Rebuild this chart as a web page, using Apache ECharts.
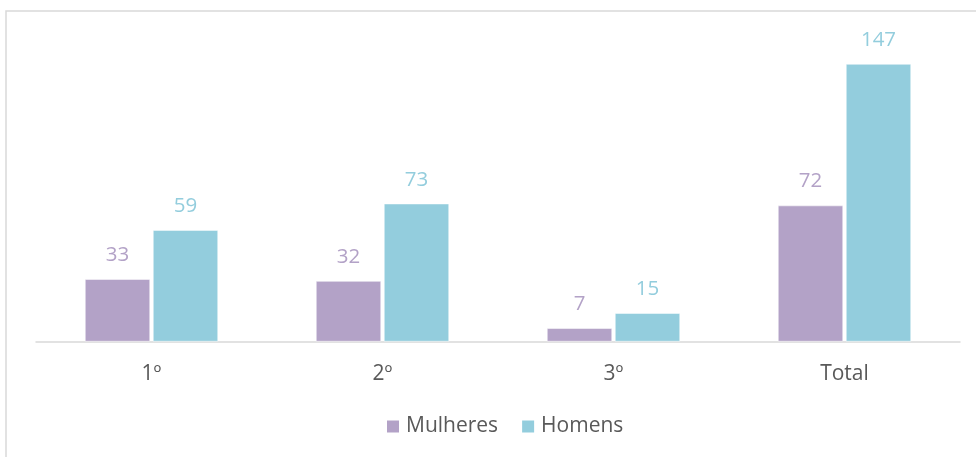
<!DOCTYPE html>
<html><head><meta charset="utf-8">
<script src="https://cdn.jsdelivr.net/npm/echarts@6/dist/echarts.min.js"></script>
<style>html,body{margin:0;padding:0;background:#fff}#c{width:976px;height:457px}</style>
</head><body><div id="c"></div>
<script>
const categories = ['1º', '2º', '3º', 'Total'];
const mulheres = [33, 32, 7, 72];
const homens = [59, 73, 15, 147];
const seriesNames = ['Mulheres', 'Homens'];

const chart = echarts.init(document.getElementById('c'), null, {renderer: 'canvas'});
const font = '"Open Sans", Lato, sans-serif';
chart.setOption({
  animation: false,
  graphic: [{
    type: 'rect', shape: {x: 6, y: 11, width: 1000, height: 500},
    style: {fill: 'none', stroke: '#d9d9d9', lineWidth: 1.5}, silent: true
  }],
  grid: {left: 36, right: 16, top: 39.5, bottom: 115.5},
  legend: {
    data: seriesNames, left: 380, top: 411, itemWidth: 14, itemHeight: 14, itemGap: 22,
    icon: 'rect', textStyle: {color: '#595959', fontSize: 21, fontFamily: font, padding: [0, 0, 0, 1]}
  },
  xAxis: {
    type: 'category', data: categories,
    axisLine: {lineStyle: {color: '#d9d9d9', width: 1.5}},
    axisTick: {show: false},
    axisLabel: {color: '#595959', fontSize: 21, fontFamily: font, margin: 22}
  },
  yAxis: {type: 'value', min: 0, max: 160, show: false, splitLine: {show: false}},
  series: [
    {name: seriesNames[0], type: 'bar', data: mulheres, barWidth: 65, barGap: '4.6%',
     itemStyle: {color: '#b3a2c7', borderColor: '#fff', borderWidth: 0.5},
     label: {show: true, position: 'top', distance: 13.5, color: '#b3a2c7', fontSize: 20.5, fontFamily: font}},
    {name: seriesNames[1], type: 'bar', data: homens, barWidth: 65,
     itemStyle: {color: '#93cddd', borderColor: '#fff', borderWidth: 0.5},
     label: {show: true, position: 'top', distance: 13.5, color: '#93cddd', fontSize: 20.5, fontFamily: font}}
  ]
});
</script></body></html>
